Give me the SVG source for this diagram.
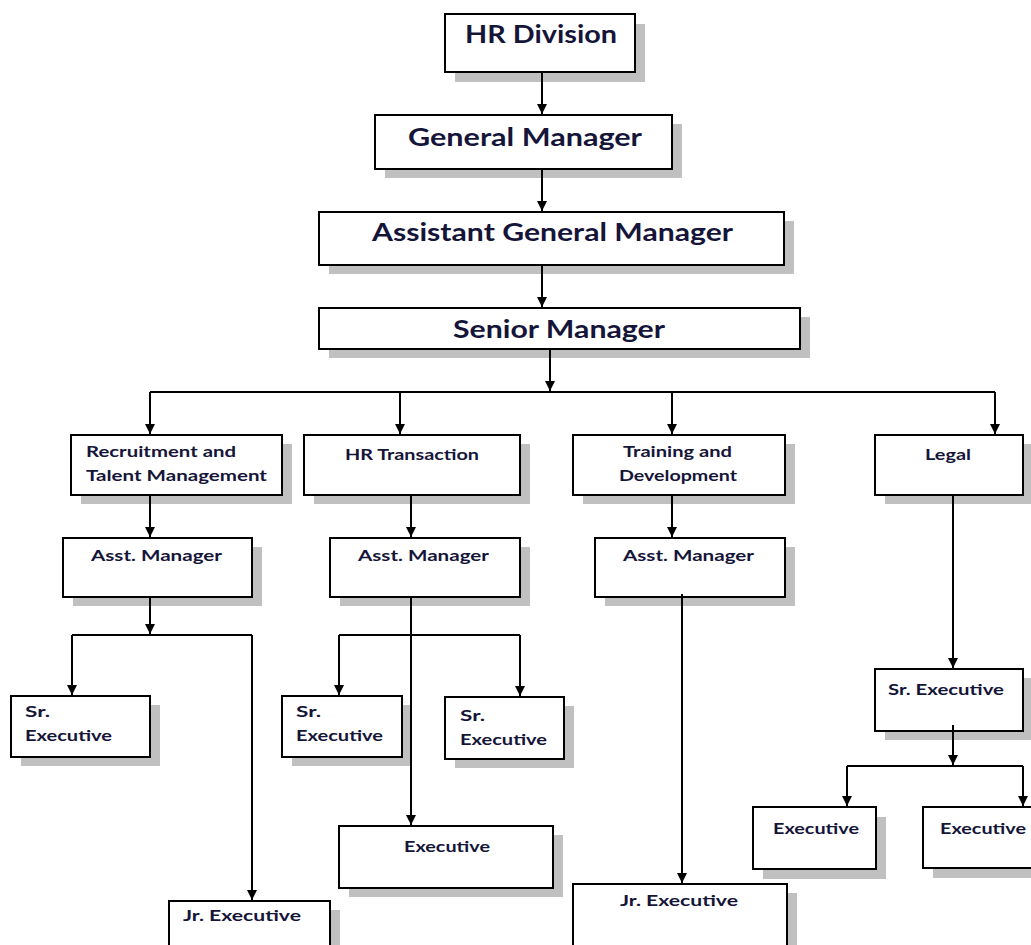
<svg xmlns="http://www.w3.org/2000/svg" width="1031" height="945" viewBox="0 0 1031 945">
<style>
.box{fill:#fff;stroke:#000;stroke-width:2}
.sh{fill:#c0c0c0}
.t1{font-family:Lato,"Open Sans",sans-serif;font-weight:bold;font-size:24px;fill:#15153a}
.t2{font-family:Lato,"Open Sans",sans-serif;font-weight:bold;font-size:16px;fill:#15153a}
.c{fill:none;stroke:#000;stroke-width:2}
</style>
<defs>
<marker id="ah" markerUnits="userSpaceOnUse" markerWidth="12" markerHeight="10" refX="10" refY="5" orient="auto">
<path d="M0,0 L10,5 L0,10 z" fill="#000"/>
</marker>
</defs>
<rect width="1031" height="945" fill="#fff"/>
<g id="hr-division">
<rect class="sh" x="455" y="24" width="190" height="58"/>
<rect class="box" x="445" y="14" width="190" height="58"/>
<text class="t1" x="465" y="43" textLength="152" lengthAdjust="spacingAndGlyphs">HR Division</text>
</g>
<g id="general-manager">
<rect class="sh" x="385" y="124" width="297" height="54"/>
<rect class="box" x="375" y="115" width="297" height="54"/>
<text class="t1" x="408" y="146" textLength="234" lengthAdjust="spacingAndGlyphs">General Manager</text>
</g>
<g id="agm">
<rect class="sh" x="329" y="221" width="465" height="53"/>
<rect class="box" x="319" y="212" width="465" height="53"/>
<text class="t1" x="372" y="241" textLength="361" lengthAdjust="spacingAndGlyphs">Assistant General Manager</text>
</g>
<g id="senior-manager">
<rect class="sh" x="329" y="317" width="481" height="41"/>
<rect class="box" x="319" y="308" width="481" height="41"/>
<text class="t1" x="453" y="338" textLength="212" lengthAdjust="spacingAndGlyphs">Senior Manager</text>
</g>
<g id="recruitment">
<rect class="sh" x="81" y="444" width="211" height="60"/>
<rect class="box" x="71" y="435" width="211" height="60"/>
<text class="t2" x="86" y="457" textLength="150" lengthAdjust="spacingAndGlyphs">Recruitment and</text>
<text class="t2" x="86" y="481" textLength="181" lengthAdjust="spacingAndGlyphs">Talent Management</text>
</g>
<g id="hr-transaction">
<rect class="sh" x="314" y="444" width="216" height="60"/>
<rect class="box" x="304" y="435" width="216" height="60"/>
<text class="t2" x="345" y="460" textLength="134" lengthAdjust="spacingAndGlyphs">HR Transaction</text>
</g>
<g id="training">
<rect class="sh" x="583" y="444" width="212" height="60"/>
<rect class="box" x="573" y="435" width="212" height="60"/>
<text class="t2" x="623" y="457" textLength="109" lengthAdjust="spacingAndGlyphs">Training and</text>
<text class="t2" x="619" y="481" textLength="118" lengthAdjust="spacingAndGlyphs">Development</text>
</g>
<g id="legal">
<rect class="sh" x="885" y="444" width="148" height="60"/>
<rect class="box" x="875" y="435" width="148" height="60"/>
<text class="t2" x="925" y="460" textLength="46" lengthAdjust="spacingAndGlyphs">Legal</text>
</g>
<g id="am-recruitment">
<rect class="sh" x="73" y="547" width="189" height="59"/>
<rect class="box" x="63" y="538" width="189" height="59"/>
<text class="t2" x="91" y="561" textLength="131" lengthAdjust="spacingAndGlyphs">Asst. Manager</text>
</g>
<g id="am-hr">
<rect class="sh" x="340" y="547" width="190" height="59"/>
<rect class="box" x="330" y="538" width="190" height="59"/>
<text class="t2" x="358" y="561" textLength="131" lengthAdjust="spacingAndGlyphs">Asst. Manager</text>
</g>
<g id="am-training">
<rect class="sh" x="605" y="547" width="190" height="59"/>
<rect class="box" x="595" y="538" width="190" height="59"/>
<text class="t2" x="623" y="561" textLength="131" lengthAdjust="spacingAndGlyphs">Asst. Manager</text>
</g>
<g id="sr-exec-rec">
<rect class="sh" x="21" y="705" width="139" height="61"/>
<rect class="box" x="11" y="696" width="139" height="61"/>
<text class="t2" x="25" y="717" textLength="25" lengthAdjust="spacingAndGlyphs">Sr.</text>
<text class="t2" x="25" y="741" textLength="87" lengthAdjust="spacingAndGlyphs">Executive</text>
</g>
<g id="jr-exec-rec">
<rect class="sh" x="179" y="910" width="161" height="50"/>
<rect class="box" x="169" y="901" width="161" height="60"/>
<text class="t2" x="183" y="921" textLength="118" lengthAdjust="spacingAndGlyphs">Jr. Executive</text>
</g>
<g id="sr-exec-hr-1">
<rect class="sh" x="292" y="705" width="118" height="61"/>
<rect class="box" x="282" y="696" width="120" height="61"/>
<text class="t2" x="296" y="717" textLength="25" lengthAdjust="spacingAndGlyphs">Sr.</text>
<text class="t2" x="296" y="741" textLength="87" lengthAdjust="spacingAndGlyphs">Executive</text>
</g>
<g id="sr-exec-hr-2">
<rect class="sh" x="455" y="706" width="119" height="62"/>
<rect class="box" x="445" y="697" width="119" height="62"/>
<text class="t2" x="460" y="721" textLength="25" lengthAdjust="spacingAndGlyphs">Sr.</text>
<text class="t2" x="460" y="745" textLength="87" lengthAdjust="spacingAndGlyphs">Executive</text>
</g>
<g id="exec-hr">
<rect class="sh" x="349" y="835" width="214" height="62"/>
<rect class="box" x="339" y="826" width="214" height="62"/>
<text class="t2" x="404" y="852" textLength="86" lengthAdjust="spacingAndGlyphs">Executive</text>
</g>
<g id="jr-exec-training">
<rect class="sh" x="583" y="893" width="214" height="60"/>
<rect class="box" x="573" y="884" width="214" height="70"/>
<text class="t2" x="620" y="906" textLength="118" lengthAdjust="spacingAndGlyphs">Jr. Executive</text>
</g>
<g id="sr-exec-legal">
<rect class="sh" x="885" y="678" width="148" height="62"/>
<rect class="box" x="875" y="669" width="148" height="62"/>
<text class="t2" x="888" y="695" textLength="116" lengthAdjust="spacingAndGlyphs">Sr. Executive</text>
</g>
<g id="exec-legal-1">
<rect class="sh" x="763" y="817" width="123" height="62"/>
<rect class="box" x="753" y="807" width="123" height="62"/>
<text class="t2" x="773" y="834" textLength="86" lengthAdjust="spacingAndGlyphs">Executive</text>
</g>
<g id="exec-legal-2">
<rect class="sh" x="933" y="817" width="123" height="61"/>
<rect class="box" x="923" y="807" width="123" height="61"/>
<text class="t2" x="940" y="834" textLength="86" lengthAdjust="spacingAndGlyphs">Executive</text>
</g>
<g id="connectors">
<path class="c" d="M542,73 V114" marker-end="url(#ah)"/>
<path class="c" d="M542,170 V211" marker-end="url(#ah)"/>
<path class="c" d="M542,266 V307" marker-end="url(#ah)"/>
<path class="c" d="M550,350 V391" marker-end="url(#ah)"/>
<path class="c" d="M150,392 H995"/>
<path class="c" d="M150,392 V434" marker-end="url(#ah)"/>
<path class="c" d="M400,392 V434" marker-end="url(#ah)"/>
<path class="c" d="M672,392 V434" marker-end="url(#ah)"/>
<path class="c" d="M995,392 V434" marker-end="url(#ah)"/>
<path class="c" d="M150,496 V537" marker-end="url(#ah)"/>
<path class="c" d="M411,496 V537" marker-end="url(#ah)"/>
<path class="c" d="M672,496 V537" marker-end="url(#ah)"/>
<path class="c" d="M953,496 V668" marker-end="url(#ah)"/>
<path class="c" d="M150,598 V634" marker-end="url(#ah)"/>
<path class="c" d="M72,635 H252"/>
<path class="c" d="M72,635 V695" marker-end="url(#ah)"/>
<path class="c" d="M252,635 V900" marker-end="url(#ah)"/>
<path class="c" d="M411,598 V825" marker-end="url(#ah)"/>
<path class="c" d="M339,635 H520"/>
<path class="c" d="M339,635 V695" marker-end="url(#ah)"/>
<path class="c" d="M520,635 V696" marker-end="url(#ah)"/>
<path class="c" d="M682,594 V883" marker-end="url(#ah)"/>
<path class="c" d="M953,725 V765" marker-end="url(#ah)"/>
<path class="c" d="M847,766 H1023"/>
<path class="c" d="M847,766 V806" marker-end="url(#ah)"/>
<path class="c" d="M1023,766 V806" marker-end="url(#ah)"/>
</g>
</svg>
